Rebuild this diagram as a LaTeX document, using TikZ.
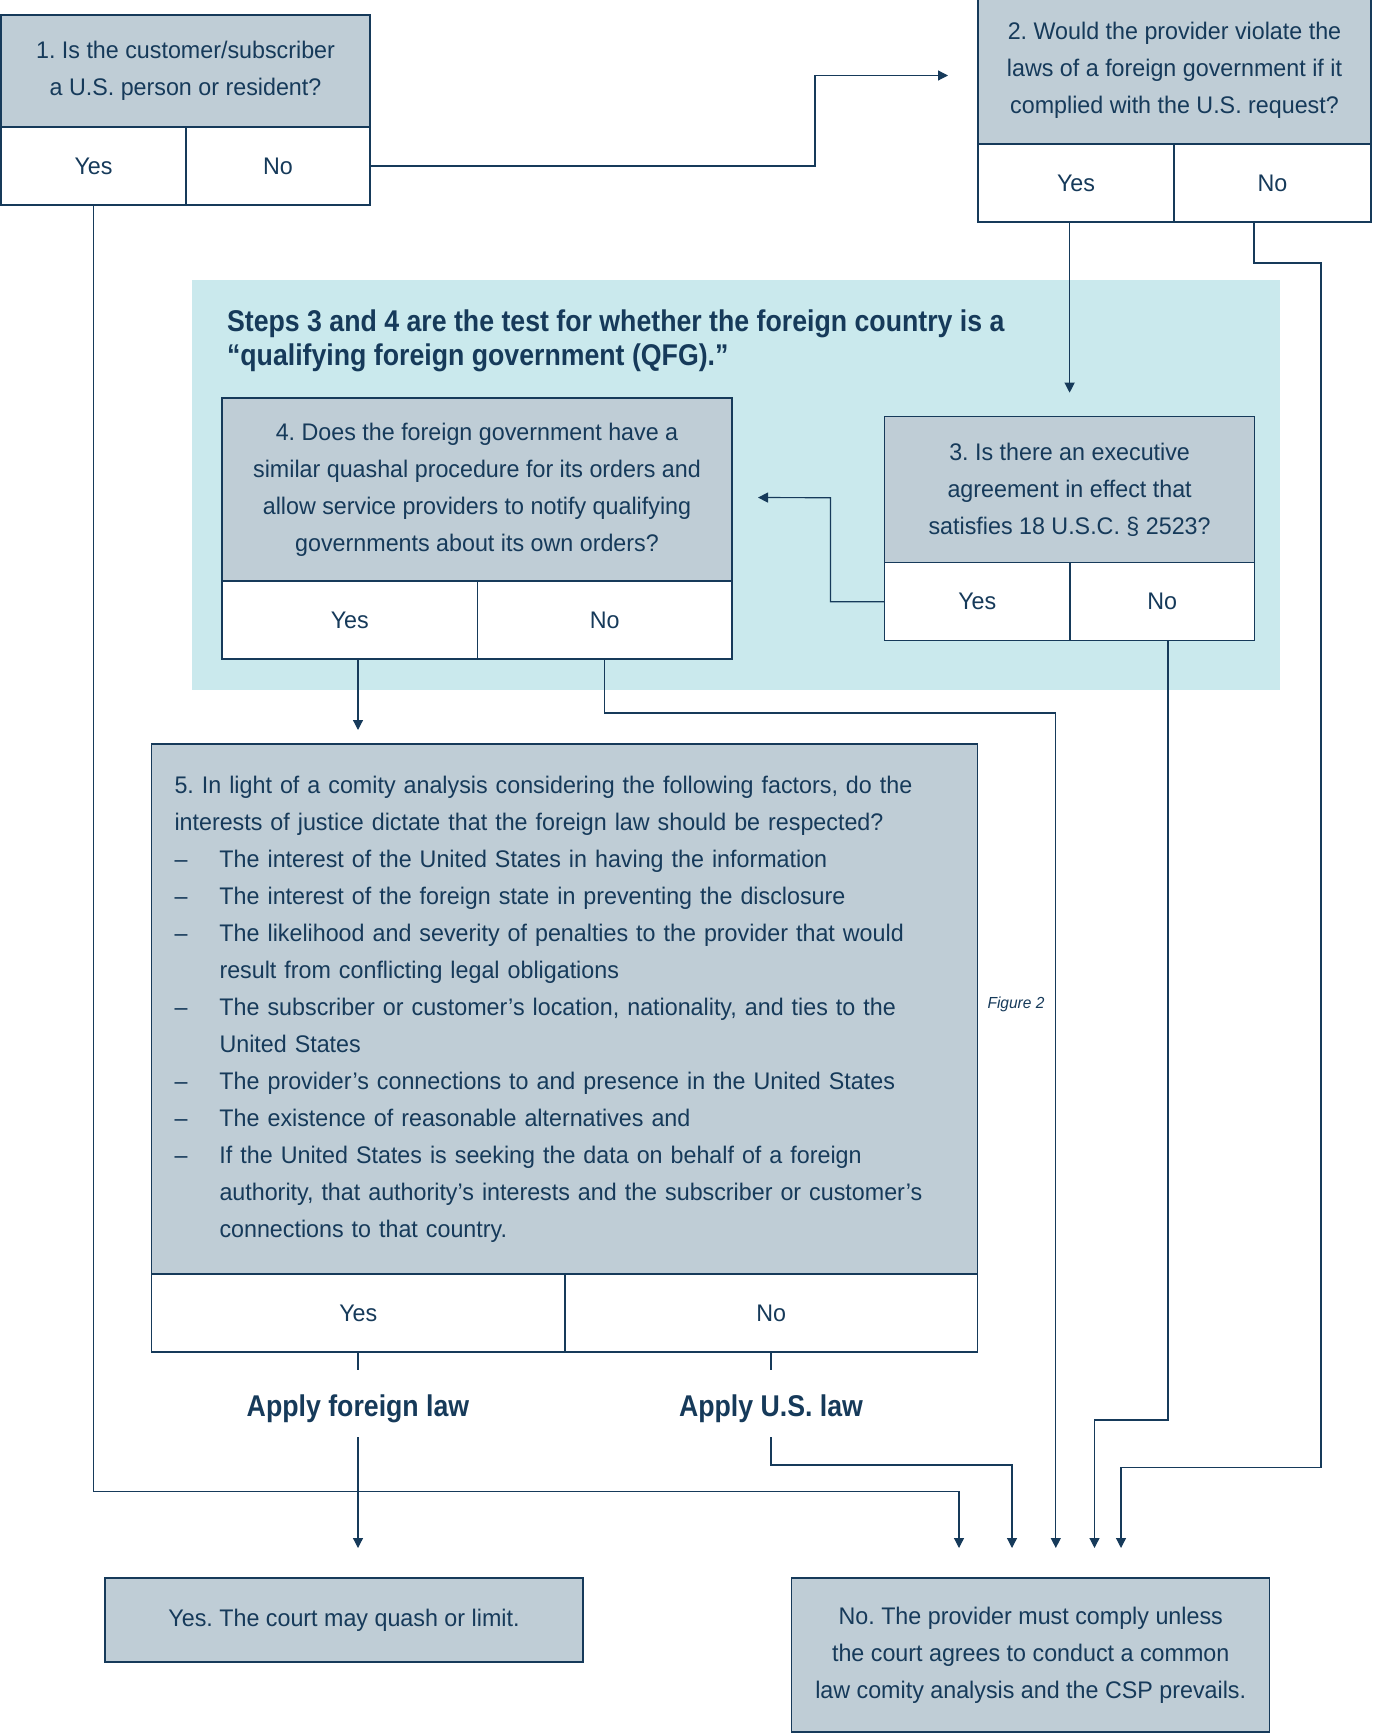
\documentclass[tikz,border=0pt]{standalone}
\usepackage{fontspec}
\setmainfont{Liberation Sans}[FakeStretch=0.97]
\newfontfamily\headfont{Liberation Sans}[FakeStretch=0.89]
\usepackage{tikz}
\usetikzlibrary{arrows.meta,positioning,calc}
\definecolor{navy}{RGB}{22,58,90}
\definecolor{boxgrey}{RGB}{191,205,214}
\definecolor{qfgteal}{RGB}{202,233,237}
\newcommand{\itm}{\makebox[22.5pt][l]{–}}
\newcommand{\cnt}{\hspace*{22.5pt}}
\frenchspacing

\begin{document}
\begin{tikzpicture}[x=0.5pt, y=-0.5pt,
    every node/.style={font=\fontsize{12}{18.5}\selectfont, text=navy},
    question/.style={draw=navy, line width=0.75pt, fill=boxgrey, anchor=north west, align=center, inner sep=0pt, outer sep=0pt},
    answer/.style={draw=navy, line width=0.75pt, fill=white, anchor=north west, inner sep=0pt, outer sep=0pt, minimum height=39pt},
    headline/.style={font=\headfont\bfseries\fontsize{15}{17.2}\selectfont, text=navy},
    link/.style={draw=navy, line width=0.6pt},
    linkarrow/.style={link, -{Triangle[length=5pt,width=5pt]}}
  ]
  \useasboundingbox (0,0) rectangle (1372,1733);
  % QFG test area
  \fill[qfgteal] (192,280) rectangle (1280,690);
  \node[headline, anchor=west, align=left] (qfgtitle) at (220,341)
    {Steps 3 and 4 are the test for whether the foreign country is a\\“qualifying foreign government (QFG).”};

  % questions
  \node[question, minimum width=184.5pt, minimum height=56pt] (q1) at (1,15)
    {1. Is the customer/subscriber\\a U.S. person or resident?};
  \node[answer, minimum width=92.5pt] (ans1y) at (q1.south west) {Yes};
  \node[answer, minimum width=92pt] (ans1n) at (ans1y.north east) {No};

  \node[question, minimum width=196.5pt, minimum height=73.5pt] (q2) at (978,-3)
    {2. Would the provider violate the\\laws of a foreign government if it\\complied with the U.S. request?};
  \node[answer, minimum width=98pt] (ans2y) at (q2.south west) {Yes};
  \node[answer, minimum width=98.5pt] (ans2n) at (ans2y.north east) {No};

  \node[question, minimum width=185pt, minimum height=73pt] (q3) at (884.6,416.7)
    {3. Is there an executive\\agreement in effect that\\satisfies 18 U.S.C. § 2523?};
  \node[answer, minimum width=92.7pt] (ans3y) at (q3.south west) {Yes};
  \node[answer, minimum width=92.3pt] (ans3n) at (ans3y.north east) {No};

  \node[question, minimum width=255pt, minimum height=91.5pt] (q4) at (222,398)
    {4. Does the foreign government have a\\similar quashal procedure for its orders and\\allow service providers to notify qualifying\\governments about its own orders?};
  \node[answer, minimum width=127.8pt] (ans4y) at (q4.south west) {Yes};
  \node[answer, minimum width=127.2pt] (ans4n) at (ans4y.north east) {No};

  \node[question, minimum width=413pt, minimum height=265pt, text width=390pt, align=left] (q5) at (151.5,744)
    {5. In light of a comity analysis considering the following factors, do the\\
     interests of justice dictate that the foreign law should be respected?\\
     \itm The interest of the United States in having the information\\
     \itm The interest of the foreign state in preventing the disclosure\\
     \itm The likelihood and severity of penalties to the provider that would\\
     \cnt result from conflicting legal obligations\\
     \itm The subscriber or customer’s location, nationality, and ties to the\\
     \cnt United States\\
     \itm The provider’s connections to and presence in the United States\\
     \itm The existence of reasonable alternatives and\\
     \itm If the United States is seeking the data on behalf of a foreign\\
     \cnt authority, that authority’s interests and the subscriber or customer’s\\
     \cnt connections to that country.};
  \node[answer, minimum width=206.75pt] (ans5y) at (q5.south west) {Yes};
  \node[answer, minimum width=206.25pt] (ans5n) at (ans5y.north east) {No};
  \node[font=\itshape\fontsize{8}{9.6}\selectfont] (figlabel) at (1016,1004) {Figure 2};

  \node[headline, minimum height=33pt, inner sep=0pt, text height=16pt, text depth=3pt] (lblF) at (358,1403.7) {Apply foreign law};
  \node[headline, minimum height=33pt, inner sep=0pt, text height=16pt, text depth=3pt] (lblU) at (771,1403.7) {Apply U.S. law};

  % outcomes
  \node[question, minimum width=239pt, minimum height=42pt] (out1) at (105,1578)
    {Yes. The court may quash or limit.};
  \node[question, minimum width=239pt, minimum height=77pt] (out2) at (791.7,1578)
    {No. The provider must comply unless\\the court agrees to conduct a common\\law comity analysis and the CSP prevails.};

  % connectors
  \draw[linkarrow, shorten >=15pt] (ans1n.east) -- (815,0 |- ans1n.east) |- ([yshift=-2.5pt]q2.west);
  \draw[linkarrow, shorten >=12pt] (q3.north |- ans2y.south) -- (q3.north);
  \draw[linkarrow, shorten >=15pt] (ans2n.south -| 1254,0) |- (1321,263) |- (1121,1467.7) -- (1121,0 |- out2.north);
  \draw[linkarrow, shorten >=15pt] (ans1y.south) |- (959,1491.7) -- (959,0 |- out2.north);
  \draw[linkarrow, shorten >=13pt] (ans3y.west) -| (830.4,497.7) -- ([yshift=-4pt]q4.east);
  \draw[linkarrow, shorten >=15pt] (ans3n.south -| 1168,0) |- (1094.5,1420) -- (1094.5,0 |- out2.north);
  \draw[linkarrow, shorten >=7pt] (lblF.north |- ans4y.south) -- (lblF.north |- q5.north);
  \draw[linkarrow, shorten >=15pt] (ans4n.south) |- (1055.8,713) -- (1055.8,0 |- out2.north);
  \draw[link] (lblF.north |- ans5y.south) -- (lblF.north);
  \draw[link] (lblU.north |- ans5n.south) -- (lblU.north);
  \draw[linkarrow, shorten >=15pt] (lblF.south) -- (lblF.south |- out1.north);
  \draw[linkarrow, shorten >=15pt] (lblU.south) |- (1012,1465) -- (1012,0 |- out2.north);
\end{tikzpicture}
\end{document}
